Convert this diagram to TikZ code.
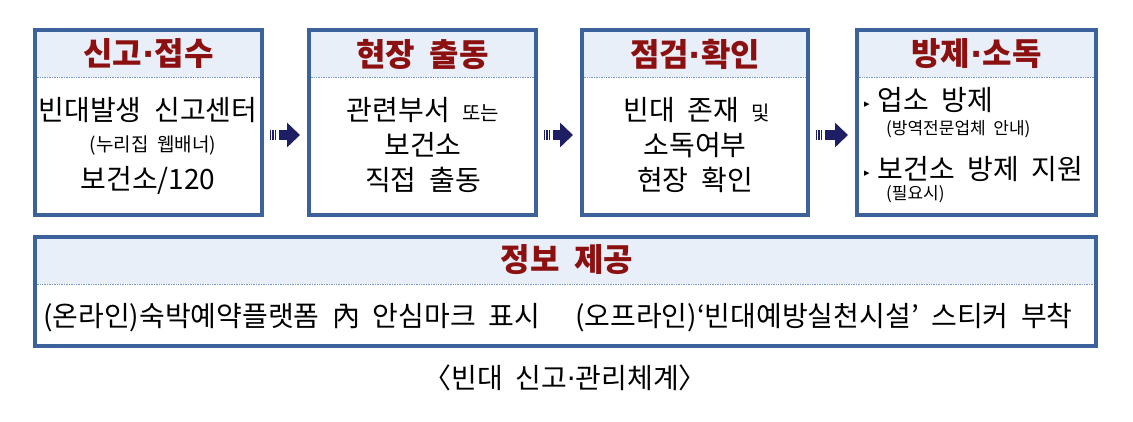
\documentclass[tikz,border=0pt]{standalone}
\usepackage{fontspec}
\setmainfont{Noto Sans CJK KR}[WordSpace=2]
\newfontfamily\symfont{DejaVu Sans}
\usepackage{tikz}
\usetikzlibrary{arrows.meta, calc}

\definecolor{frameblue}{RGB}{60,98,156}
\definecolor{headblue}{RGB}{233,239,248}
\definecolor{dotblue}{RGB}{120,150,195}
\definecolor{titlered}{RGB}{140,16,16}
\definecolor{flownavy}{RGB}{30,30,100}

\newcommand{\fsz}[1]{\fontsize{#1}{#1}\selectfont}
\newcommand{\tribullet}{\raisebox{3pt}{\symfont\fsz{11}▸}\hspace{8pt}}
\newcommand{\middot}{{\symfont·}}

\begin{document}
\begin{tikzpicture}[x=1pt, y=-1pt,
  dotline/.style={draw=dotblue, line width=0.8pt, dash pattern=on 0.8pt off 0.9pt},
  stage/.style={draw=frameblue, line width=4pt, fill=white, inner sep=0pt,
    minimum width=#1, minimum height=185pt,
    path picture={
      \fill[headblue] (path picture bounding box.north west) rectangle ([yshift=-47pt]path picture bounding box.north east);
      \draw[dotline] ([yshift=-47pt]path picture bounding box.north west) -- ([yshift=-47pt]path picture bounding box.north east);
    }},
  headtxt/.style={font=\bfseries\fsz{32}, text=titlered, inner sep=0pt},
  bodytxt/.style={font=\fsz{28}, inner sep=0pt},
  smalltxt/.style={font=\fsz{19}, inner sep=0pt},
  notetxt/.style={font=\fsz{17}, inner sep=0pt, anchor=west},
  flowbody/.style={draw=flownavy, line width=9.5pt, -{Triangle[length=13pt, width=24pt]}},
  flowbars/.style={draw=flownavy, line width=10pt, dash pattern=on 1.4pt off 1pt}
]
\fill[white] (0,0) rectangle (1133,421);

% Stages
\node[stage=227pt] (rep) at (148.5,122.5) {};
\node[stage=227pt] (go) at (422.5,122.5) {};
\node[stage=226pt] (chk) at (695,122.5) {};
\node[stage=239pt] (ctl) at (976.5,122.5) {};
\node[stage=1061pt, minimum height=109pt] (info) at (565.5,291.5) {};

% Report
\node[headtxt] (repH) at (148.5,54) {신고\middot 접수};
\node[bodytxt] (repA) at (148,110) {빈대발생 신고센터};
\node[smalltxt] (repB) at (153,146) {(누리집 웹배너)};
\node[bodytxt] (repC) at (148,180) {보건소/120};

% Dispatch
\node[headtxt] (goH) at (422.5,54) {현장 출동};
\node[bodytxt] (goA) at (423,110) {관련부서 {\fsz{20}또는}};
\node[bodytxt] (goB) at (423,145) {보건소};
\node[bodytxt] (goC) at (423,180) {직접 출동};

% Inspection
\node[headtxt] (chkH) at (695,54) {점검\middot 확인};
\node[bodytxt] (chkA) at (697,110) {빈대 존재 {\fsz{20}및}};
\node[bodytxt] (chkB) at (695,145) {소독여부};
\node[bodytxt] (chkC) at (695,180) {현장 확인};

% Control
\node[headtxt] (ctlH) at (976.5,54) {방제\middot 소독};
\node[bodytxt, anchor=west] (ctlA) at (864,100) {\tribullet 업소 방제};
\node[notetxt] (ctlB) at (886,129) {(방역전문업체 안내)};
\node[bodytxt, anchor=west] (ctlC) at (864,169) {\tribullet 보건소 방제 지원};
\node[notetxt] (ctlD) at (886,194) {(필요시)};

% Information
\node[headtxt] (infoH) at (567,260) {정보 제공};
\node[bodytxt, anchor=west] (infoA) at (43,318) {(온라인)숙박예약플랫폼 內 안심마크 표시};
\node[bodytxt, anchor=west] (infoB) at (575,318) {(오프라인)‘빈대예방실천시설’ 스티커 부착};

% Caption
\node[font=\fsz{28}, inner sep=0pt] (caption) at (565,378) {〈빈대 신고\middot 관리체계〉};

% Flow arrows
\foreach \a/\b in {rep/go, go/chk, chk/ctl} {
  \draw[flowbars] ([xshift=6pt, yshift=-12.5pt]\a.east) -- ++(7,0);
  \draw[flowbody, shorten <=15pt, shorten >=7pt] ([yshift=-12.5pt]\a.east) -- ([yshift=-12.5pt]\b.west);
}
\end{tikzpicture}
\end{document}
